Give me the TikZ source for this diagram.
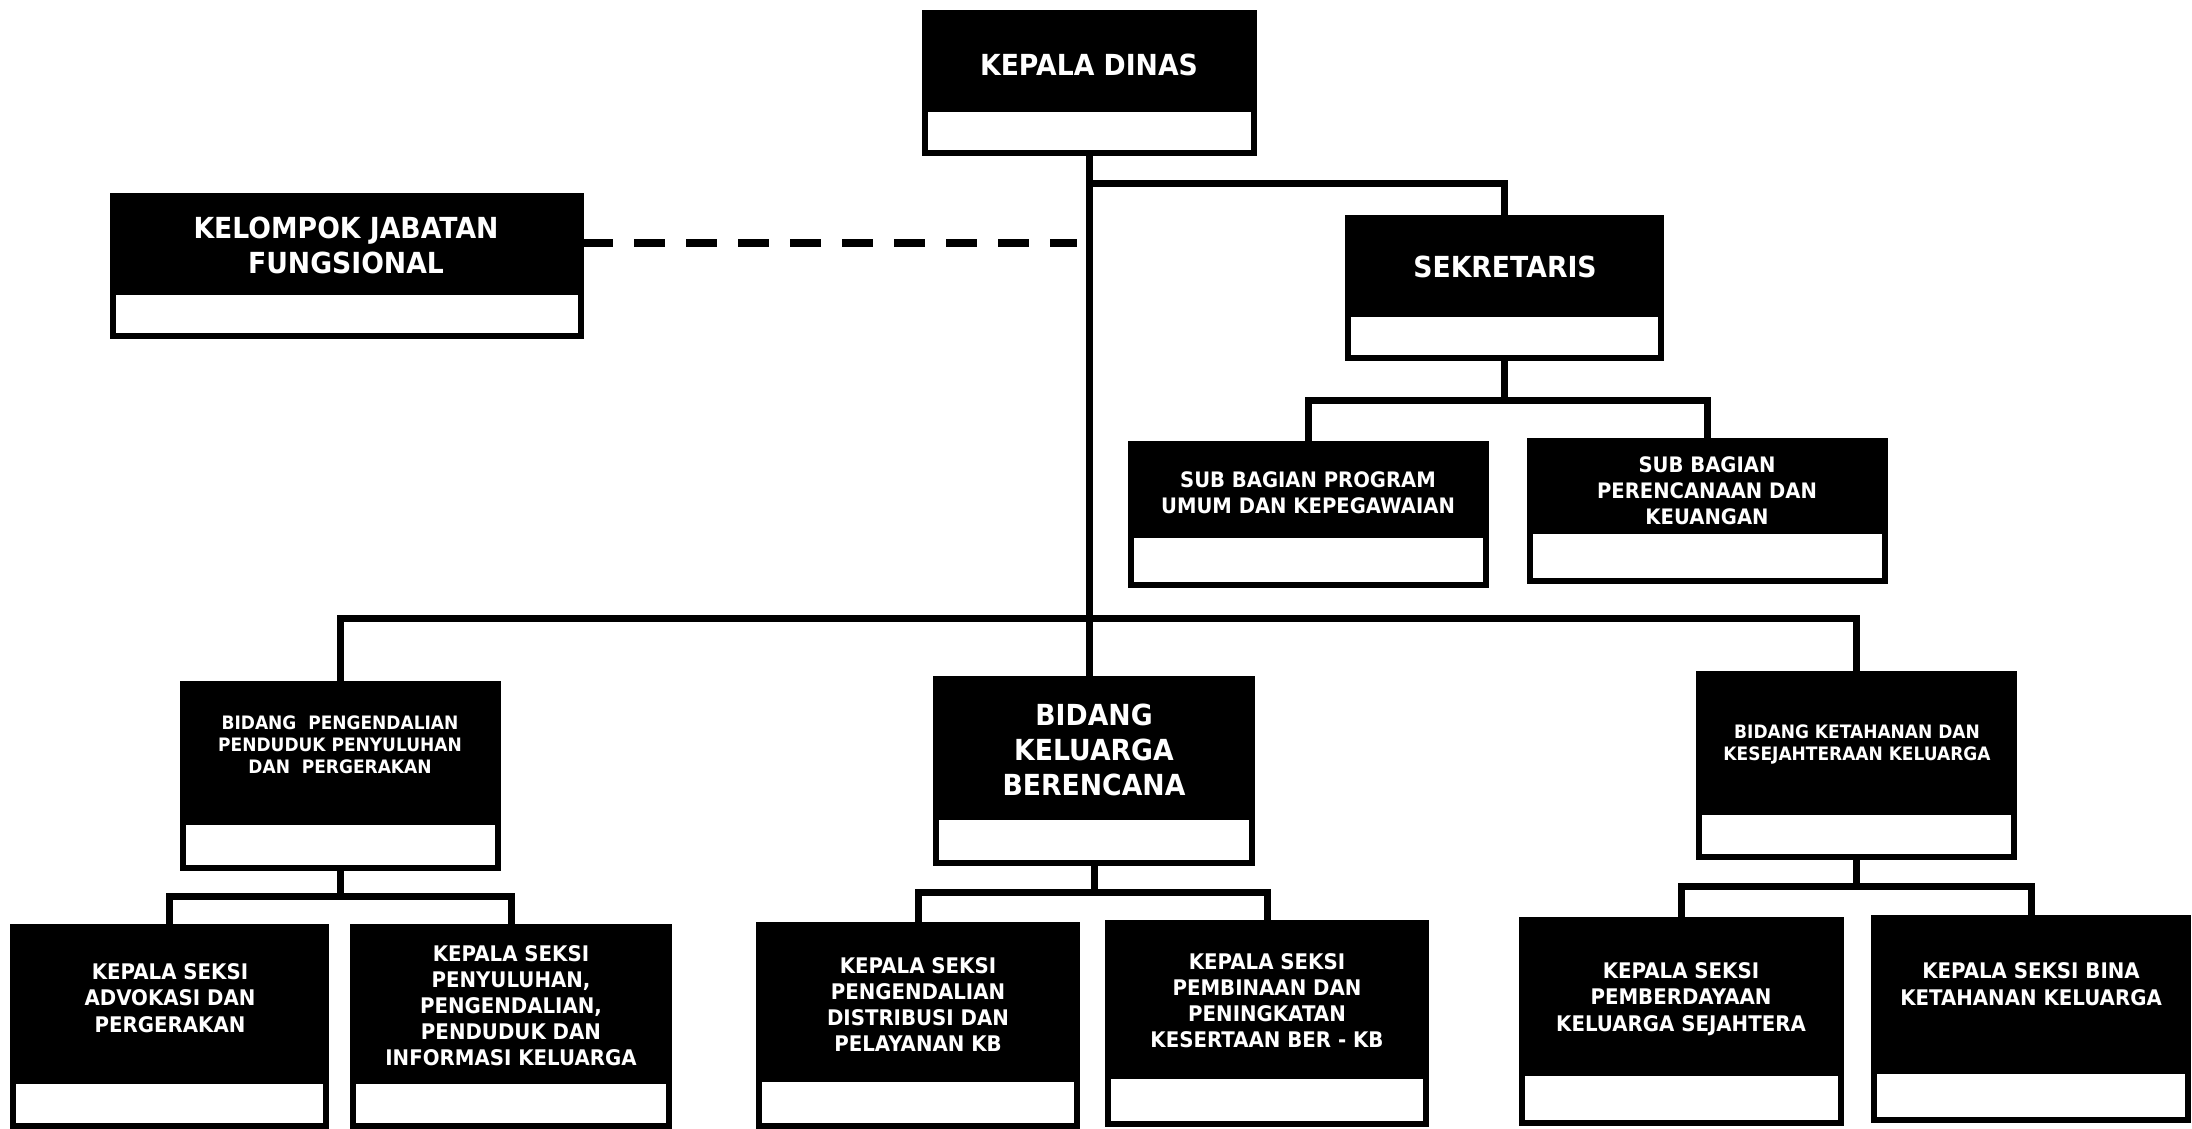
\documentclass[tikz,border=0pt]{standalone}
\usepackage{fontspec}
\newfontfamily\orgfont{DejaVu Sans}[FakeStretch=0.92]
\usetikzlibrary{calc}
\tikzset{
  orgbox/.style={draw=black, fill=black, line width=4pt, inner sep=0pt, outer sep=0pt, anchor=north west},
  strip/.style={fill=white},
  conn/.style={draw=black, line width=7pt, line join=miter},
  dashconn/.style={draw=black, line width=8pt, dash pattern=on 31pt off 21pt},
  txt/.style n args={2}{text=white, align=center, inner sep=0pt, font=\orgfont\bfseries\fontsize{#1}{#2}\selectfont},
}
\newcommand\orgunit[6]{%
  \node[orgbox, minimum width={(#4-#2)*1pt}, minimum height={(#5-#3)*1pt}] (#1) at (#2,#3) {};
  \fill[strip] ({#2+4},#6) rectangle ({#4-4},{#5-4});
}
\begin{document}
\begin{tikzpicture}[x=1pt, y=-1pt]
\useasboundingbox[fill=white] (0,0) rectangle (2192,1128);

% boxes: name, x1, y1, x2, y2, strip top
\orgunit{kd}{924}{12}{1255}{154}{112}
\orgunit{kjf}{112}{195}{582}{337}{295}
\orgunit{sek}{1347}{217}{1662}{359}{317}
\orgunit{sbp}{1130}{443}{1487}{586}{538}
\orgunit{sbk}{1529}{440}{1886}{582}{534}
\orgunit{bpp}{182}{683}{499}{869}{825}
\orgunit{bkb}{935}{678}{1253}{864}{820}
\orgunit{bkt}{1698}{673}{2015}{858}{815}
\orgunit{ksa}{12}{926}{327}{1127}{1084}
\orgunit{ksb}{352}{926}{670}{1127}{1084}
\orgunit{ksc}{758}{924}{1078}{1127}{1082}
\orgunit{ksd}{1107}{922}{1427}{1125}{1079}
\orgunit{kse}{1521}{919}{1842}{1124}{1076}
\orgunit{ksf}{1873}{917}{2189}{1121}{1074}

% texts
\node[txt={29}{35}] (kdT) at (1089,65) {KEPALA DINAS};
\node[txt={29}{35}] (kjfT) at (346,245) {KELOMPOK JABATAN\\FUNGSIONAL};
\node[txt={29}{35}] (sekT) at (1505,267) {SEKRETARIS};
\node[txt={21.3}{26}] (sbpT) at (1308,493) {SUB BAGIAN PROGRAM\\UMUM DAN KEPEGAWAIAN};
\node[txt={21.3}{26}] (sbkT) at (1707,491) {SUB BAGIAN\\PERENCANAAN DAN\\KEUANGAN};
\node[txt={18.5}{22}] (bppT) at (340,745) {BIDANG~ PENGENDALIAN\\PENDUDUK PENYULUHAN\\DAN~ PERGERAKAN};
\node[txt={29}{35}] (bkbT) at (1094,750) {BIDANG\\KELUARGA\\BERENCANA};
\node[txt={18.5}{22}] (bktT) at (1857,744) {BIDANG KETAHANAN DAN\\KESEJAHTERAAN KELUARGA};
\node[txt={21.5}{26.5}] (ksaT) at (170,998) {KEPALA SEKSI\\ADVOKASI DAN\\PERGERAKAN};
\node[txt={21.5}{26}] (ksbT) at (511,1006) {KEPALA SEKSI\\PENYULUHAN,\\PENGENDALIAN,\\PENDUDUK DAN\\INFORMASI KELUARGA};
\node[txt={21.5}{26}] (kscT) at (918,1005) {KEPALA SEKSI\\PENGENDALIAN\\DISTRIBUSI DAN\\PELAYANAN KB};
\node[txt={21.5}{26}] (ksdT) at (1267,1001) {KEPALA SEKSI\\PEMBINAAN DAN\\PENINGKATAN\\KESERTAAN BER - KB};
\node[txt={21.5}{26.5}] (kseT) at (1681,999) {KEPALA SEKSI\\PEMBERDAYAAN\\KELUARGA SEJAHTERA};
\node[txt={21.5}{26.5}] (ksfT) at (2031,984) {KEPALA SEKSI BINA\\KETAHANAN KELUARGA};

% bus levels
\coordinate (busSek) at (0,183);
\coordinate (busDash) at (0,243);
\coordinate (busSub) at (0,400);
\coordinate (busMain) at (0,618);
\coordinate (busA) at (0,896);
\coordinate (busB) at (0,892);
\coordinate (busC) at (0,886);

% connectors
\draw[conn] (kd.south) -- (kd.south |- bkb.north);
\draw[conn] (kd.south |- busSek) -| (sek.north);
\draw[dashconn, shorten >=13pt] (kjf.east |- busDash) -- (kd.south |- busDash);
\draw[conn] (sek.south) -- (sek.south |- busSub);
\draw[conn] (sbp.north) |- (sek.south |- busSub) -| (sbk.north);
\draw[conn] (bpp.north) |- (busMain -| kd.south) -| (bkt.north);
\draw[conn] (bpp.south) -- (bpp.south |- busA);
\draw[conn] (ksa.north) |- (bpp.south |- busA) -| (ksb.north);
\draw[conn] (bkb.south) -- (bkb.south |- busB);
\draw[conn] (ksc.north) |- (bkb.south |- busB) -| (ksd.north);
\draw[conn] (bkt.south) -- (bkt.south |- busC);
\draw[conn] (kse.north) |- (bkt.south |- busC) -| (ksf.north);
\end{tikzpicture}
\end{document}
